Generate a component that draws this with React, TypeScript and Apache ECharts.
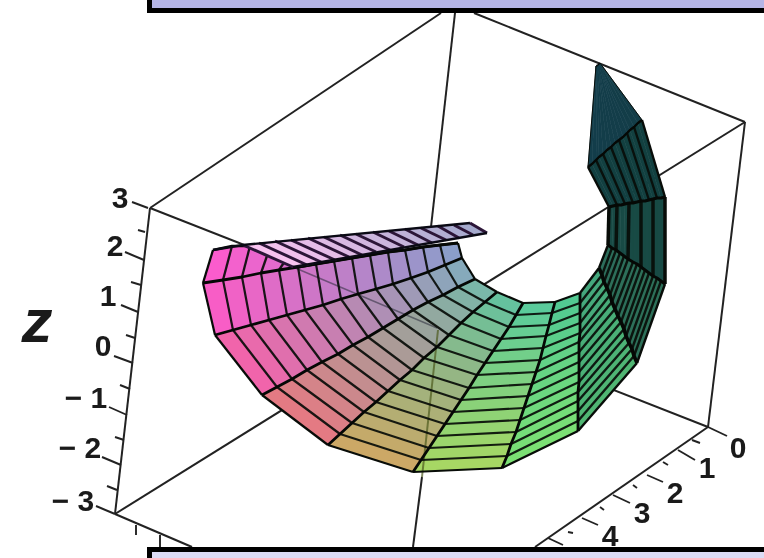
import React, { useEffect, useRef } from "react";
import * as echarts from "echarts";

// Surface mesh: one list per meridian, index 0 = outer rim, index 14 = inner rim
const meridianX = [
  [213,232,250,268,285,300,316,334,352,370,388,405,423,440,458],
  [203,223,242,261,279,298,316,334,352,370,388,405,423,440,458],
  [215,233,251,269,287,305,323,341,358,376,393,411,428,445,462],
  [262,277,292,307,322,338,353,368,383,398,413,428,443,458,475],
  [328,340,352,364,376,388,400,412,424,437,449,461,473,485,497],
  [413,421,429,437,445,453,461,469,477,485,493,501,509,516,523],
  [502,507,511,516,520,524,528,532,536,540,543,546,549,552,555],
  [578,578,578,578,578,579,579,579,579,579,580,580,580,580,580],
  [637,634,632,629,626,624,621,618,615,612,610,607,604,602,599],
  [665,661,657,653,649,645,641,637,633,628,624,620,616,612,608],
  [665,661,657,653,649,645,641,637,633,629,625,621,617,613,609],
  [642,638,634,630,627,623,619,615,611,607,603,599,596,592,588],
  [600,600,600,599,599,599,599,598,598,598,597,597,597,596,596],
];
const meridianY = [
  [250,246,246,253,261,267,264,261,258,255,252,250,247,245,243],
  [283,280,277,273,270,267,264,261,258,255,252,250,247,245,243],
  [335,330,325,320,315,310,305,299,294,289,284,278,272,265,258],
  [395,387,379,370,362,354,345,337,328,319,310,302,295,287,279],
  [445,434,423,412,402,391,380,370,358,347,335,323,312,302,292],
  [472,460,448,436,424,412,400,388,375,363,351,339,327,315,303],
  [468,456,444,432,420,408,396,384,372,360,348,336,325,313,302],
  [431,421,411,401,392,382,372,362,352,342,333,323,313,303,293],
  [363,356,349,343,336,329,322,316,309,302,295,288,282,275,268],
  [284,281,278,276,273,270,267,264,262,259,256,253,250,248,245],
  [197,198,198,199,200,201,201,202,203,203,204,205,205,206,207],
  [120,123,127,130,133,137,140,143,147,150,154,157,160,164,167],
  [63,63,63,64,64,64,64,65,65,65,65,66,66,66,66],
];
// The folded strip seen from behind
const stripTopX = [243,259,275,291,308,324,340,356,373,389,405,421,438,454,470];
const stripTopY = [245,243,241,240,238,237,235,234,232,231,229,228,226,225,223];
const stripBottomX = [293,307,321,335,349,362,376,390,404,418,432,446,459,473,487];
const stripBottomY = [267,265,262,260,257,255,252,250,247,245,243,240,238,235,233];

// Box edges and axis lines: [x1, y1, x2, y2]
const boxEdges = [
  [150,208,441,13],[474,13,745,122],[455,13,431,227],[745,122,708,427],
  [745,122,115,514],[150,208,708,427],[150,208,115,514],[115,514,192,547],
  [708,427,535,547],[422,477,413,547],
];
const seenThrough = [[293,267,437,328]];
const seenThroughOlive = [[438,330,422,477]];
const zTicks = [
  [148,208,132,202],[144,260,125,252],[138,312,121,305],[133,363,114,356],[127,415,109,407],[121,465,102,457],[115,514,96,506],
  [145,232,138,230],[141,285,131,282],[135,338,126,335],[130,389,120,385],[124,440,115,437],[117,490,107,486],
];
const yTicks = [
  [708,427,727,436],[678,450,695,460],[647,475,663,482],[613,495,630,503],[582,518,598,525],[548,538,563,545],
  [692,440,700,443],[663,462,668,465],[633,485,637,488],[600,507,604,510],[568,532,573,533],
];
const xTicks = [[136,525,136,535],[160,535,160,547]];

// Tick labels: [text, x, y]
const zTickLabels: [string, number, number][] = [
  ["3",120,197],["2",115,245],["1",108,295],["0",103,345],["− 1",98,397],["− 2",92,447],["− 3",85,500],
];
const yTickLabels: [string, number, number][] = [
  ["0",738,447],["1",707,467],["2",675,492],["3",642,512],["4",610,535],
];
const axisTitle: [string, number, number] = ["z",37,320];

// Styles
const outerColors = [
  [255,90,205],[255,90,205],[250,90,190],[240,105,150],[225,135,110],[190,200,90],[150,230,105],
  [100,220,125],[60,145,105],[30,80,72],[18,68,65],[18,60,62],[20,62,82],
];
const innerColors = [
  [150,150,205],[140,155,210],[130,165,195],[130,180,180],[105,190,160],[90,200,160],[85,205,155],
  [75,195,140],[60,140,110],[30,80,72],[18,68,65],[18,60,66],[20,62,82],
];
const rowStep = [1,1,1,1,1,1,1,1,1,3,2,20];
const rowWidth = [2.3,2.2,2.2,2.2,2.2,2.2,2.2,2.4,2.4,3.5,2.4,1];
const meridianWidth = [2.3,2.8,2.8,2.8,2.8,2.8,2.8,2.8,3.6,3,3,2.4,1.2];

function mix(a: number[], b: number[], t: number) {
  return [0, 1, 2].map((i) => a[i] + (b[i] - a[i]) * t);
}
function cellColor(c: number, r: number) {
  const t = (r + 0.5) / 14;
  const p = mix(outerColors[c], innerColors[c], t);
  const q = mix(outerColors[c + 1], innerColors[c + 1], t);
  const m = mix(p, q, 0.5);
  return `rgb(${Math.round(m[0])},${Math.round(m[1])},${Math.round(m[2])})`;
}

const cells: number[][] = [];
const rowLines: number[][] = [];
for (let c = 0; c < 12; c++) {
  for (let r = 0; r < 15; r++) {
    if (r < 14 && !(c === 0 && r >= 5)) cells.push([c, r]);
    if ((r % rowStep[c] === 0 || r === 14) && !(c === 0 && r > 5)) rowLines.push([c, r]);
  }
}
const meridians = meridianX.map((_, i) => [i, 0]);
const stripCells = stripTopX.slice(0, -1).map((_, i) => [i, 0]);
const stripLines = stripTopX.map((_, i) => [i, 0]);

const segmentSeries = (data: number[][], color: string, width: number, z: number, opacity = 1) => ({
  type: "custom",
  coordinateSystem: "cartesian2d",
  silent: true,
  z,
  encode: { x: [0, 2], y: [1, 3] },
  data,
  renderItem: (_: any, api: any) => {
    const a = api.coord([api.value(0), api.value(1)]);
    const b = api.coord([api.value(2), api.value(3)]);
    return {
      type: "line",
      shape: { x1: a[0], y1: a[1], x2: b[0], y2: b[1] },
      style: { stroke: color, lineWidth: width, opacity },
    };
  },
});

const textSeries = (data: [string, number, number][], font: string, z: number) => ({
  type: "custom",
  coordinateSystem: "cartesian2d",
  silent: true,
  z,
  data: data.map((d) => ({ value: [d[1], d[2]], label: d[0] })),
  renderItem: (params: any, api: any) => {
    const p = api.coord([api.value(0), api.value(1)]);
    const isNeg = data[params.dataIndex][0].length > 1;
    return {
      type: "text",
      x: p[0] + (isNeg ? -12 : 0),
      y: p[1],
      style: {
        text: data[params.dataIndex][0],
        font,
        fill: "#1a1a1a",
        align: "center",
        verticalAlign: "middle",
      },
    };
  },
});

export default function App() {
  const ref = useRef<HTMLDivElement>(null);
  useEffect(() => {
    const chart = echarts.init(ref.current!, undefined, { renderer: "svg" });
    chart.setOption({
      animation: false,
      backgroundColor: "#ffffff",
      grid: { left: 0, right: 0, top: 0, bottom: 0 },
      xAxis: { type: "value", min: 0, max: 764, show: false },
      yAxis: { type: "value", min: 0, max: 558, inverse: true, show: false },
      tooltip: { show: false },
      series: [
        segmentSeries(boxEdges, "#222222", 2, 1),
        segmentSeries(zTicks, "#222222", 1.9, 1),
        segmentSeries(yTicks, "#222222", 1.9, 1),
        segmentSeries(xTicks, "#222222", 1.9, 1),
        {
          type: "custom",
          coordinateSystem: "cartesian2d",
          silent: true,
          z: 2,
          data: cells,
          renderItem: (_: any, api: any) => {
            const c = api.value(0), r = api.value(1);
            const pts = [
              [meridianX[c][r], meridianY[c][r]],
              [meridianX[c + 1][r], meridianY[c + 1][r]],
              [meridianX[c + 1][r + 1], meridianY[c + 1][r + 1]],
              [meridianX[c][r + 1], meridianY[c][r + 1]],
            ].map((p) => api.coord(p));
            const fill = cellColor(c, r);
            return { type: "polygon", shape: { points: pts }, style: { fill, stroke: fill, lineWidth: 0.6 } };
          },
        },
        segmentSeries(seenThrough, "#2a2a3a", 1.4, 3, 0.55),
        segmentSeries(seenThroughOlive, "#4d5a1e", 2, 3, 0.7),
        {
          type: "custom",
          coordinateSystem: "cartesian2d",
          silent: true,
          z: 4,
          data: rowLines,
          renderItem: (_: any, api: any) => {
            const c = api.value(0), r = api.value(1);
            const a = api.coord([meridianX[c][r], meridianY[c][r]]);
            const b = api.coord([meridianX[c + 1][r], meridianY[c + 1][r]]);
            return {
              type: "line",
              shape: { x1: a[0], y1: a[1], x2: b[0], y2: b[1] },
              style: { stroke: "#080c08", lineWidth: rowWidth[c], opacity: r === 0 || r === 14 ? 1 : 0.92 },
            };
          },
        },
        {
          type: "custom",
          coordinateSystem: "cartesian2d",
          silent: true,
          z: 5,
          data: meridians,
          renderItem: (_: any, api: any) => {
            const m = api.value(0);
            const points = meridianX[m].map((x, i) => api.coord([x, meridianY[m][i]]));
            return {
              type: "polyline",
              shape: { points },
              style: { fill: "none", stroke: "#050805", lineWidth: meridianWidth[m], lineJoin: "round" },
            };
          },
        },
        {
          type: "custom",
          coordinateSystem: "cartesian2d",
          silent: true,
          z: 6,
          data: stripCells,
          renderItem: (_: any, api: any) => {
            const i = api.value(0);
            const pts = [
              [stripTopX[i], stripTopY[i]],
              [stripTopX[i + 1], stripTopY[i + 1]],
              [stripBottomX[i + 1], stripBottomY[i + 1]],
              [stripBottomX[i], stripBottomY[i]],
            ].map((p) => api.coord(p));
            const m = mix([248, 195, 240], [165, 170, 205], i / 13);
            const fill = `rgb(${Math.round(m[0])},${Math.round(m[1])},${Math.round(m[2])})`;
            return { type: "polygon", shape: { points: pts }, style: { fill, stroke: fill, lineWidth: 0.5 } };
          },
        },
        {
          type: "custom",
          coordinateSystem: "cartesian2d",
          silent: true,
          z: 7,
          data: stripLines,
          renderItem: (_: any, api: any) => {
            const i = api.value(0);
            const a = api.coord([stripTopX[i], stripTopY[i]]);
            const b = api.coord([stripBottomX[i], stripBottomY[i]]);
            return {
              type: "line",
              shape: { x1: a[0], y1: a[1], x2: b[0], y2: b[1] },
              style: { stroke: "#2c1638", lineWidth: 3 },
            };
          },
        },
        segmentSeries(
          [
            [213, 250, stripTopX[0], stripTopY[0]],
            [stripTopX[0], stripTopY[0], stripTopX[14], stripTopY[14]],
            [stripBottomX[0], stripBottomY[0], stripBottomX[14], stripBottomY[14]],
          ],
          "#0a0a14",
          2.4,
          8,
        ),
        textSeries(zTickLabels, "bold 30px 'Liberation Sans', sans-serif", 9),
        textSeries(yTickLabels, "bold 30px 'Liberation Sans', sans-serif", 9),
        textSeries([axisTitle], "italic bold 62px 'Liberation Sans', sans-serif", 9),
      ],
      graphic: [
        { type: "rect", z: 100, shape: { x: 147, y: -10, width: 640, height: 23 }, style: { fill: "#000000" } },
        { type: "rect", z: 101, shape: { x: 152, y: -10, width: 640, height: 18 }, style: { fill: "#b5b5e6" } },
        { type: "rect", z: 100, shape: { x: 147, y: 547, width: 640, height: 30 }, style: { fill: "#000000" } },
        { type: "rect", z: 101, shape: { x: 152, y: 552, width: 640, height: 30 }, style: { fill: "#dcdcf5" } },
      ],
    });
    return () => chart.dispose();
  }, []);
  return <div ref={ref} style={{ position: "absolute", left: 0, top: 0, width: 764, height: 558, filter: "blur(0.6px)" }} />;
}
